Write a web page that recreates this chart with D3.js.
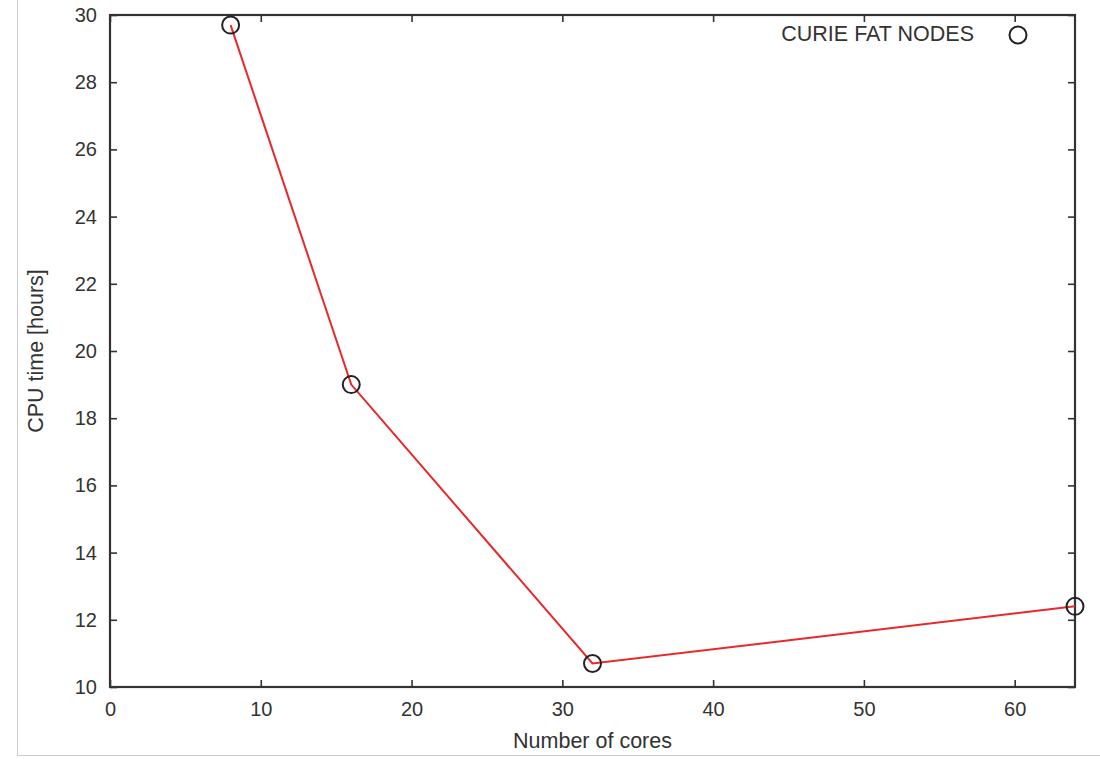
<!DOCTYPE html>
<html><head><meta charset="utf-8">
<script src="https://cdn.jsdelivr.net/npm/d3@7"></script>
<style>body{margin:0;background:#fff}svg{display:block}text{font-family:"Liberation Sans",Arial,sans-serif;fill:#333}</style>
</head><body><svg id="c" width="1100" height="759"></svg>
<script>
const cores = [8, 16, 32, 64];
const cpuHours = [29.7, 19.0, 10.7, 12.4];
const xTicks = [0, 10, 20, 30, 40, 50, 60];
const yTicks = [10, 12, 14, 16, 18, 20, 22, 24, 26, 28, 30];
const seriesName = "CURIE FAT NODES";

const svg = d3.select("#c");
const L = 110, R = 1075, T = 15, B = 687;
const FS = 20, TFS = 21.5;
const x = d3.scaleLinear().domain([0, 64]).range([L, R]);
const y = d3.scaleLinear().domain([10, 30]).range([B, T]);

// outer light border
svg.append("line").attr("x1",17.5).attr("x2",17.5).attr("y1",0).attr("y2",756).attr("stroke","#ccc").attr("stroke-width",1);
svg.append("line").attr("x1",17).attr("x2",1100).attr("y1",755.5).attr("y2",755.5).attr("stroke","#ccc").attr("stroke-width",1);

const tl = 7;
const xb = svg.append("g").attr("transform",`translate(0,${B})`)
  .call(d3.axisBottom(x).tickValues(xTicks).tickSizeInner(-tl).tickSizeOuter(0).tickPadding(15));
const xt = svg.append("g").attr("transform",`translate(0,${T})`)
  .call(d3.axisTop(x).tickValues(xTicks).tickSizeInner(-tl).tickSizeOuter(0).tickFormat(""));
const yl = svg.append("g").attr("transform",`translate(${L},0)`)
  .call(d3.axisLeft(y).tickValues(yTicks).tickSizeInner(-tl).tickSizeOuter(0).tickPadding(13));
const yr = svg.append("g").attr("transform",`translate(${R},0)`)
  .call(d3.axisRight(y).tickValues(yTicks).tickSizeInner(-tl).tickSizeOuter(0).tickFormat(""));
[xb,xt,yl,yr].forEach(g=>{
  g.select(".domain").remove();
  g.selectAll(".tick line").attr("stroke","#333").attr("stroke-width",1.6);
  g.selectAll(".tick text").attr("font-size",FS).attr("fill","#333").style("font-family","Liberation Sans, Arial, sans-serif");
});
xb.selectAll(".tick text").attr("dy","0.71em");

svg.append("rect").attr("x",L).attr("y",T).attr("width",R-L).attr("height",B-T)
  .attr("fill","none").attr("stroke","#333").attr("stroke-width",2.2);

const pts = cores.map((c,i)=>[c,cpuHours[i]]);
svg.append("path").datum(pts)
  .attr("d", d3.line().x(d=>x(d[0])).y(d=>y(d[1])))
  .attr("fill","none").attr("stroke","#e8282b").attr("stroke-width",2);
svg.selectAll("circle.pt").data(pts).join("circle").attr("class","pt")
  .attr("cx",d=>x(d[0])).attr("cy",d=>y(d[1])).attr("r",8.5)
  .attr("fill","none").attr("stroke","#222").attr("stroke-width",2);

svg.append("text").attr("x",974).attr("y",41).attr("text-anchor","end").attr("font-size",TFS).text(seriesName);
svg.append("circle").attr("cx",1018).attr("cy",35).attr("r",8.5).attr("fill","none").attr("stroke","#222").attr("stroke-width",2);

svg.append("text").attr("x",(L+R)/2).attr("y",748).attr("text-anchor","middle").attr("font-size",TFS).text("Number of cores");
svg.append("text").attr("transform",`translate(43,${(T+B)/2}) rotate(-90)`).attr("text-anchor","middle").attr("font-size",TFS).text("CPU time [hours]");
</script></body></html>
